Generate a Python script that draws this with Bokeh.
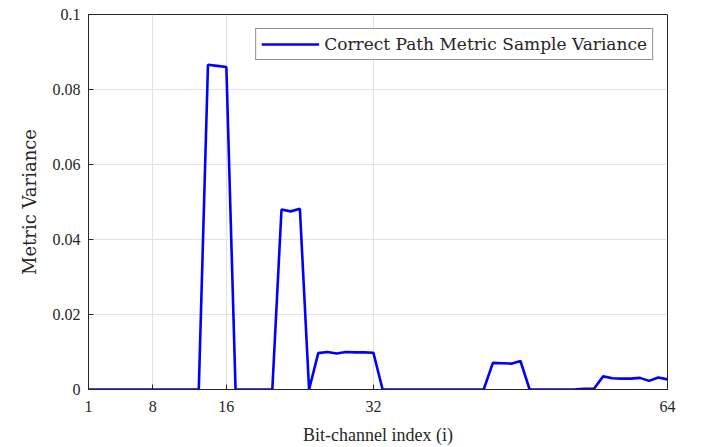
from bokeh.plotting import figure
from bokeh.models import FixedTicker, CustomJSTickFormatter, Range1d, Legend, LegendItem
from bokeh.embed import file_html
from bokeh.resources import INLINE

# Data
bit_index = list(range(1, 65))
variance = [
    0, 0, 0, 0, 0, 0, 0, 0, 0, 0, 0, 0, 0,          # 1-13
    0.0866, 0.0863, 0.0860,                          # 14-16
    0, 0, 0, 0, 0,                                   # 17-21
    0.0480, 0.0475, 0.0482,                          # 22-24
    0,                                               # 25
    0.0097, 0.0100, 0.0096, 0.0100, 0.0099, 0.0099, 0.0098,  # 26-32
    0, 0, 0, 0, 0, 0, 0, 0, 0, 0, 0, 0,              # 33-44
    0.0071, 0.0070, 0.0069, 0.0076,                  # 45-48
    0, 0, 0, 0, 0,                                   # 49-53
    0.00005, 0.0002, 0.0002,                         # 54-56
    0.0035, 0.0030, 0.0029, 0.0029, 0.0031, 0.0023, 0.0032, 0.0027,  # 57-64
]
x_ticks = [1, 8, 16, 32, 64]
y_ticks = [0, 0.02, 0.04, 0.06, 0.08, 0.1]
series_label = "Correct Path Metric Sample Variance"

FONT = "Liberation Serif"
LATEX_FONT = "DejaVu Serif"
TXT = "#262626"

p = figure(width=701, height=447, output_backend="svg", toolbar_location=None,
           x_range=Range1d(1, 64), y_range=Range1d(0, 0.1),
           min_border_left=88, min_border_right=34, min_border_top=14, min_border_bottom=58)
p.background_fill_color = "white"
p.border_fill_color = "white"
p.outline_line_color = TXT
p.outline_line_width = 1

r = p.line(bit_index, variance, line_color="#0000ff", line_width=2.6)

for ax, ticks in ((p.xaxis[0], x_ticks), (p.yaxis[0], y_ticks)):
    ax.ticker = FixedTicker(ticks=ticks)
    ax.major_tick_in = 5
    ax.major_tick_out = 0
    ax.minor_tick_line_color = None
    ax.axis_line_color = TXT
    ax.major_tick_line_color = TXT
    ax.major_label_text_font = FONT
    ax.major_label_text_font_size = "16px"
    ax.major_label_text_color = TXT
    ax.axis_label_text_font_style = "normal"
    ax.axis_label_text_color = TXT

p.yaxis[0].formatter = CustomJSTickFormatter(code="return String(Math.round(tick*100)/100);")
p.xaxis[0].axis_label = "Bit-channel index (i)"
p.xaxis[0].axis_label_text_font = FONT
p.xaxis[0].axis_label_text_font_size = "18px"
p.yaxis[0].axis_label = "Metric Variance"
p.yaxis[0].axis_label_text_font = LATEX_FONT
p.yaxis[0].axis_label_text_font_size = "18px"
p.xaxis[0].axis_label_standoff = 10
p.yaxis[0].axis_label_standoff = 10
p.xaxis[0].major_label_standoff = 11
p.yaxis[0].major_label_standoff = 8

p.xgrid.ticker = FixedTicker(ticks=x_ticks)
p.ygrid.ticker = FixedTicker(ticks=y_ticks)
p.grid.grid_line_color = "#e3e3e3"
p.grid.grid_line_width = 1

legend = Legend(items=[LegendItem(label=series_label, renderers=[r])],
                location="top_right")
legend.label_text_font = LATEX_FONT
legend.label_text_font_size = "17px"
legend.label_text_color = TXT
legend.border_line_color = TXT
legend.border_line_width = 1
legend.glyph_width = 58
legend.glyph_height = 16
legend.label_standoff = 5
legend.padding = 5
legend.spacing = 0
legend.margin = 14
legend.label_height = 16
p.add_layout(legend)

open("out.html", "w").write(file_html(p, INLINE))
